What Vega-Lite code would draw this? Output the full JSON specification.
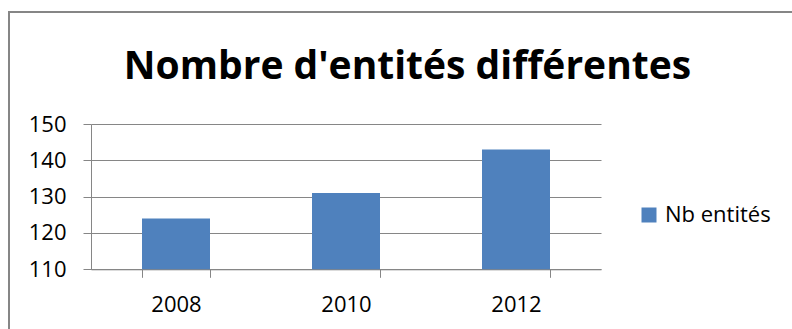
{
  "$schema": "https://vega.github.io/schema/vega-lite/v6.json",
  "width": 793,
  "height": 327,
  "autosize": {"type": "none"},
  "padding": {"left": 9, "top": 12, "right": -10, "bottom": -10},
  "background": "white",
  "data": {
    "values": [
      {"annee": "2008", "valeur": 124, "serie": "Nb entités"},
      {"annee": "2010", "valeur": 131, "serie": "Nb entités"},
      {"annee": "2012", "valeur": 143, "serie": "Nb entités"}
    ]
  },
  "title": {
    "text": "Nombre d'entités différentes",
    "font": "Open Sans",
    "fontSize": 39,
    "fontWeight": "bold",
    "color": "#000000",
    "anchor": "middle",
    "baseline": "alphabetic",
    "offset": -106,
    "dx": 2
  },
  "mark": {"type": "bar", "color": "#4F81BD"},
  "encoding": {
    "x": {
      "field": "annee",
      "type": "ordinal",
      "scale": {"range": [82, 592], "paddingInner": 0.6, "paddingOuter": 0.3},
      "axis": {
        "title": null,
        "orient": "bottom",
        "offset": -69.7,
        "tickBand": "extent",
        "labelAngle": 0,
        "labelFont": "Open Sans",
        "labelFontSize": 22,
        "labelColor": "#000000",
        "labelPadding": 17,
        "tickSize": 8,
        "tickColor": "#868686",
        "domainColor": "#868686",
        "tickWidth": 1,
        "domainWidth": 1,
        "grid": false
      }
    },
    "y": {
      "field": "valeur",
      "type": "quantitative",
      "scale": {"domain": [110, 150], "range": [257.3, 112], "zero": false, "nice": false, "clamp": true},
      "axis": {
        "title": null,
        "orient": "left",
        "offset": -82,
        "values": [110, 120, 130, 140, 150],
        "labelFont": "Open Sans",
        "labelFontSize": 22,
        "labelColor": "#000000",
        "labelPadding": 17,
        "tickSize": 8,
        "tickColor": "#868686",
        "domainColor": "#868686",
        "gridColor": "#868686",
        "grid": true,
        "tickWidth": 1,
        "domainWidth": 1,
        "gridWidth": 1
      }
    },
    "color": {
      "field": "serie",
      "type": "nominal",
      "scale": {"range": ["#4F81BD"]},
      "legend": {
        "title": null,
        "orient": "none",
        "legendX": 629,
        "legendY": 192,
        "symbolType": "square",
        "symbolSize": 225,
        "symbolStrokeWidth": 0,
        "labelFont": "Open Sans",
        "labelFontSize": 22,
        "labelColor": "#000000",
        "labelOffset": 5
      }
    }
  },
  "config": {
    "view": {
      "stroke": "#868686",
      "strokeWidth": 2
    }
  }
}
